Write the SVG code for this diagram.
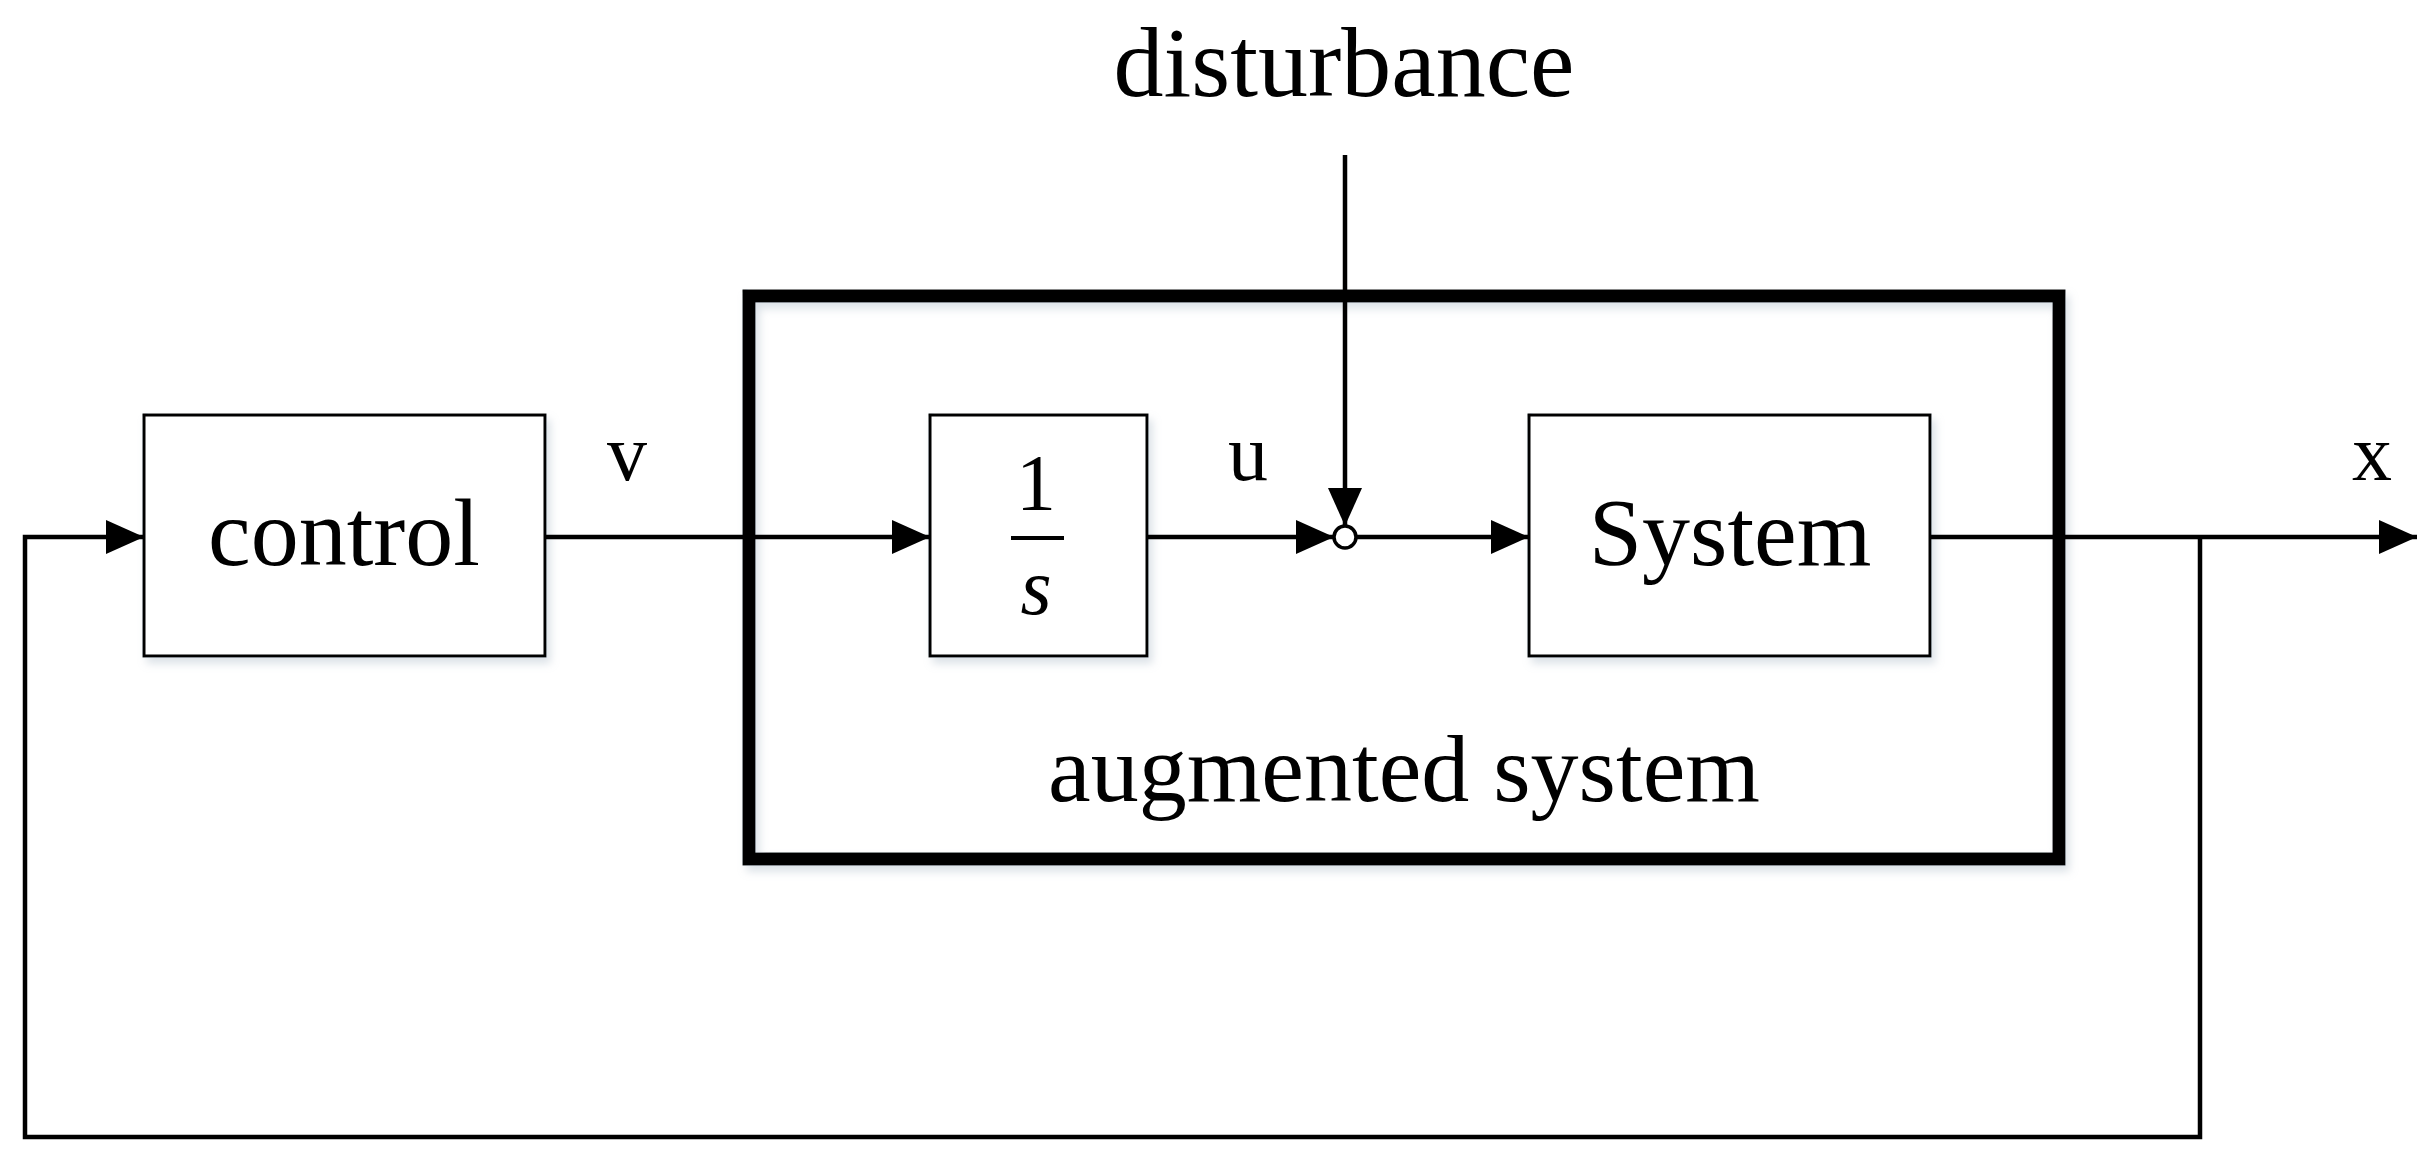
<svg xmlns="http://www.w3.org/2000/svg" width="2427" height="1163" viewBox="0 0 2427 1163">
<defs>
<marker id="ah" markerUnits="userSpaceOnUse" markerWidth="40" markerHeight="34" refX="38" refY="17" orient="auto"><path d="M0,0 L38,17 L0,34 Z" fill="#000"/></marker>
<filter id="sh" x="-5%" y="-5%" width="115%" height="115%"><feDropShadow dx="4" dy="6" stdDeviation="4" flood-color="#9ab" flood-opacity="0.35"/></filter>
</defs>
<style>
.b{fill:#fff;stroke:#000;stroke-width:3}
.t{font-family:"Liberation Serif",serif;fill:#000;text-anchor:middle}
.c{fill:none;stroke:#000;stroke-width:4.5}
</style>
<rect width="2427" height="1163" fill="#fff"/>
<g id="augmented">
<rect x="749" y="296" width="1310" height="563" fill="none" stroke="#000" stroke-width="13" filter="url(#sh)"/>
<text class="t" x="1404" y="801" font-size="96">augmented system</text>
</g>
<g id="control"><rect class="b" x="144" y="415" width="401" height="241" filter="url(#sh)"/><text class="t" x="344" y="565" font-size="96">control</text></g>
<g id="integrator"><rect class="b" x="930" y="415" width="217" height="241" filter="url(#sh)"/><text class="t" x="1036" y="510" font-size="80">1</text><line x1="1011" y1="538" x2="1064" y2="538" stroke="#000" stroke-width="4"/><text class="t" x="1036" y="614" font-size="80" font-style="italic">s</text></g>
<g id="system"><rect class="b" x="1529" y="415" width="401" height="241" filter="url(#sh)"/><text class="t" x="1730" y="565" font-size="96">System</text></g>
<g id="sum"><circle cx="1345" cy="537" r="11" fill="#fff" stroke="#000" stroke-width="3.5"/></g>
<g id="labels">
<text class="t" x="1344" y="96" font-size="100">disturbance</text>
<text class="t" x="627" y="480" font-size="80">v</text>
<text class="t" x="1248" y="480" font-size="80">u</text>
<text class="t" x="2372" y="480" font-size="80">x</text>
</g>
<g id="connectors">
<line class="c" x1="545" y1="537" x2="930" y2="537" marker-end="url(#ah)"/>
<line class="c" x1="1147" y1="537" x2="1334" y2="537" marker-end="url(#ah)"/>
<line class="c" x1="1356" y1="537" x2="1529" y2="537" marker-end="url(#ah)"/>
<line class="c" x1="1345" y1="155" x2="1345" y2="526" marker-end="url(#ah)"/>
<line class="c" x1="1930" y1="537" x2="2417" y2="537" marker-end="url(#ah)"/>
<polyline class="c" points="2200,537 2200,1137 25,1137 25,537 144,537" marker-end="url(#ah)"/>
</g>
</svg>
